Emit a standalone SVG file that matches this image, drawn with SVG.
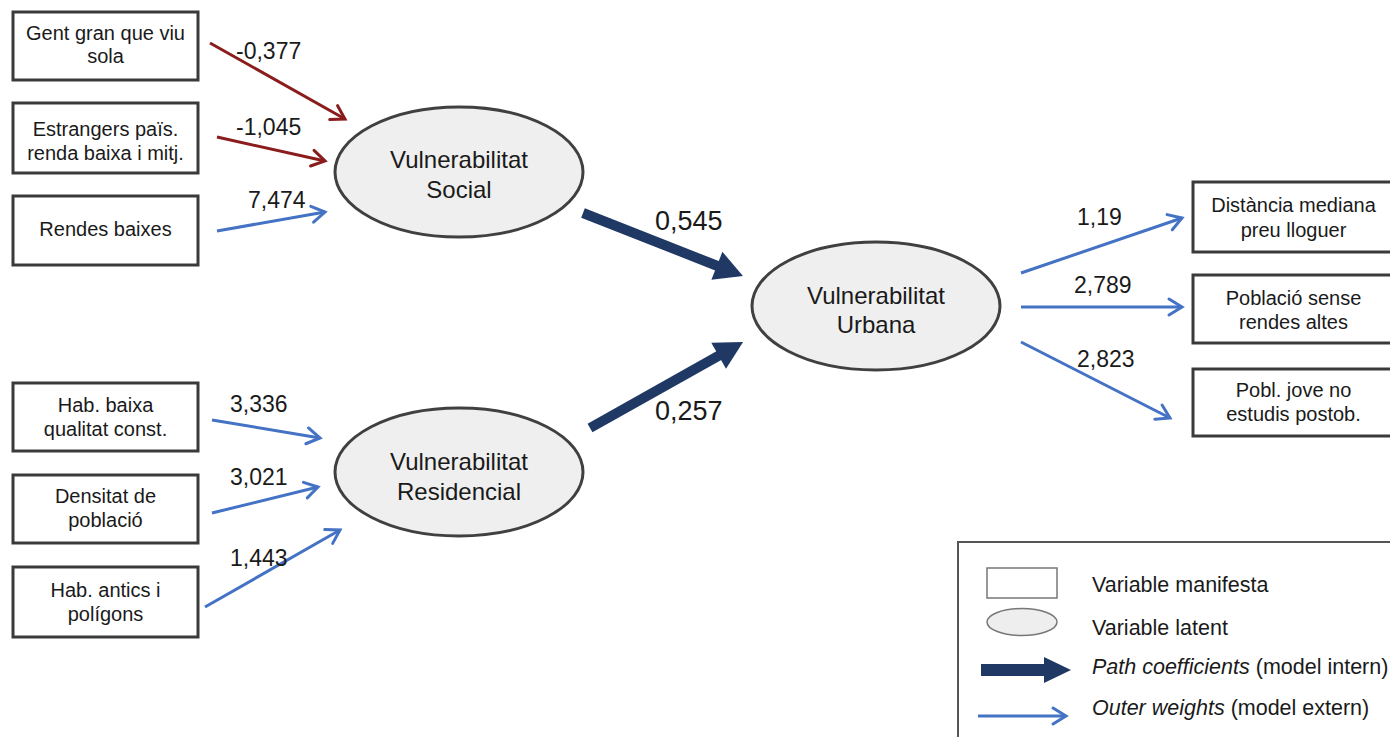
<svg xmlns="http://www.w3.org/2000/svg" width="1390" height="737" viewBox="0 0 1390 737">
<defs>
<style>
.box{fill:#fff;stroke:#3a3a3a;stroke-width:3}
.lat{fill:#efefef;stroke:#404040;stroke-width:3}
.bt{font-family:"Liberation Sans",Arial,sans-serif;font-size:20px;fill:#1a1a1a;text-anchor:middle}
.lt{font-family:"Liberation Sans",Arial,sans-serif;font-size:24px;fill:#1a1a1a;text-anchor:middle}
.wl{font-family:"Liberation Sans",Arial,sans-serif;font-size:23px;fill:#1a1a1a}
.pl{font-family:"Liberation Sans",Arial,sans-serif;font-size:27px;fill:#1a1a1a}
.gt{font-family:"Liberation Sans",Arial,sans-serif;font-size:21.5px;fill:#1a1a1a}
.red{stroke:#8b1c1c;stroke-width:3;fill:none;marker-end:url(#mr)}
.blue{stroke:#4472c4;stroke-width:3;fill:none;marker-end:url(#mb)}
.navy{stroke:#1f3864;stroke-width:10;fill:none;marker-end:url(#mn)}
</style>
<marker id="mr" markerUnits="userSpaceOnUse" viewBox="-16 -11 19 22" refX="0" refY="0" markerWidth="19" markerHeight="22" orient="auto">
<path d="M-13,-8 L0,0 L-13,8" fill="none" stroke="#8b1c1c" stroke-width="3" stroke-linecap="round" stroke-linejoin="miter"/>
</marker>
<marker id="mb" markerUnits="userSpaceOnUse" viewBox="-16 -11 19 22" refX="0" refY="0" markerWidth="19" markerHeight="22" orient="auto">
<path d="M-13,-8 L0,0 L-13,8" fill="none" stroke="#4472c4" stroke-width="3" stroke-linecap="round" stroke-linejoin="miter"/>
</marker>
<marker id="mn" markerUnits="userSpaceOnUse" viewBox="-15 -17 32 34" refX="0" refY="0" markerWidth="32" markerHeight="34" orient="auto">
<path d="M15,0 L-13,-15 L-13,15 Z" fill="#1f3864"/>
</marker>
</defs>
<rect width="1390" height="737" fill="#fff"/>

<g id="connectors">
<line class="red" x1="210" y1="43" x2="345" y2="119"/>
<line class="red" x1="217" y1="137" x2="325" y2="161"/>
<line class="blue" x1="217" y1="231" x2="325" y2="212"/>
<line class="blue" x1="212" y1="420" x2="320" y2="438"/>
<line class="blue" x1="212" y1="513" x2="318" y2="487"/>
<line class="blue" x1="205" y1="607" x2="340" y2="530"/>
<line class="navy" x1="583" y1="213" x2="729" y2="270.5"/>
<line class="navy" x1="590" y1="428" x2="730" y2="349.4"/>
<line class="blue" x1="1021" y1="273" x2="1182" y2="218"/>
<line class="blue" x1="1021" y1="307" x2="1182" y2="307"/>
<line class="blue" x1="1021" y1="342" x2="1170" y2="418"/>
<text class="wl" x="236" y="59">-0,377</text>
<text class="wl" x="236" y="135">-1,045</text>
<text class="wl" x="248" y="208">7,474</text>
<text class="wl" x="230" y="412">3,336</text>
<text class="wl" x="230" y="485">3,021</text>
<text class="wl" x="230" y="566">1,443</text>
<text class="pl" x="655" y="230">0,545</text>
<text class="pl" x="655" y="420">0,257</text>
<text class="wl" x="1077" y="225">1,19</text>
<text class="wl" x="1074" y="293">2,789</text>
<text class="wl" x="1077" y="367">2,823</text>
</g>

<g id="n-gent">
<rect class="box" x="13" y="12" width="185" height="68"/>
<text class="bt" x="105.5" y="40">Gent gran que viu</text>
<text class="bt" x="105.5" y="63">sola</text>
</g>
<g id="n-estrangers">
<rect class="box" x="13" y="103" width="185" height="70"/>
<text class="bt" x="105.5" y="136">Estrangers païs.</text>
<text class="bt" x="105.5" y="160">renda baixa i mitj.</text>
</g>
<g id="n-rendes">
<rect class="box" x="13" y="196" width="185" height="69"/>
<text class="bt" x="105.5" y="236">Rendes baixes</text>
</g>
<g id="n-hab-baixa">
<rect class="box" x="13" y="383" width="185" height="68"/>
<text class="bt" x="105.5" y="412">Hab. baixa</text>
<text class="bt" x="105.5" y="436">qualitat const.</text>
</g>
<g id="n-densitat">
<rect class="box" x="13" y="475" width="185" height="68"/>
<text class="bt" x="105.5" y="503">Densitat de</text>
<text class="bt" x="105.5" y="527">població</text>
</g>
<g id="n-hab-antics">
<rect class="box" x="13" y="567" width="185" height="70"/>
<text class="bt" x="105.5" y="597">Hab. antics i</text>
<text class="bt" x="105.5" y="621">polígons</text>
</g>

<g id="n-social">
<ellipse class="lat" cx="459" cy="172" rx="124" ry="65"/>
<text class="lt" x="459" y="168">Vulnerabilitat</text>
<text class="lt" x="459" y="198">Social</text>
</g>
<g id="n-residencial">
<ellipse class="lat" cx="459" cy="472" rx="124" ry="64"/>
<text class="lt" x="459" y="470">Vulnerabilitat</text>
<text class="lt" x="459" y="500">Residencial</text>
</g>
<g id="n-urbana">
<ellipse class="lat" cx="876" cy="306" rx="124" ry="64"/>
<text class="lt" x="876" y="304">Vulnerabilitat</text>
<text class="lt" x="876" y="333">Urbana</text>
</g>

<g id="n-distancia">
<rect class="box" x="1193" y="182" width="202" height="70"/>
<text class="bt" x="1293.5" y="212">Distància mediana</text>
<text class="bt" x="1293.5" y="237">preu lloguer</text>
</g>
<g id="n-poblacio">
<rect class="box" x="1193" y="275" width="202" height="68"/>
<text class="bt" x="1293.5" y="305">Població sense</text>
<text class="bt" x="1293.5" y="329">rendes altes</text>
</g>
<g id="n-jove">
<rect class="box" x="1193" y="369" width="202" height="67"/>
<text class="bt" x="1293.5" y="397">Pobl. jove no</text>
<text class="bt" x="1293.5" y="421">estudis postob.</text>
</g>

<g id="legend">
<rect x="958" y="542" width="440" height="210" fill="#fff" stroke="#555" stroke-width="2"/>
<rect x="987" y="568" width="70" height="30" fill="#fff" stroke="#777" stroke-width="1.5"/>
<ellipse cx="1022" cy="622" rx="35" ry="13.5" fill="#eee" stroke="#777" stroke-width="1.5"/>
<line x1="981" y1="670" x2="1047" y2="670" stroke="#1f3864" stroke-width="12"/>
<polygon points="1044,657 1071,670 1044,683" fill="#1f3864"/>
<line x1="978" y1="716" x2="1066" y2="716" stroke="#4472c4" stroke-width="3" marker-end="url(#mb)"/>
<text class="gt" x="1092" y="592">Variable manifesta</text>
<text class="gt" x="1092" y="635">Variable latent</text>
<text class="gt" x="1092" y="674"><tspan font-style="italic">Path coefficients</tspan> (model intern)</text>
<text class="gt" x="1092" y="715"><tspan font-style="italic">Outer weights</tspan> (model extern)</text>
</g>
</svg>
